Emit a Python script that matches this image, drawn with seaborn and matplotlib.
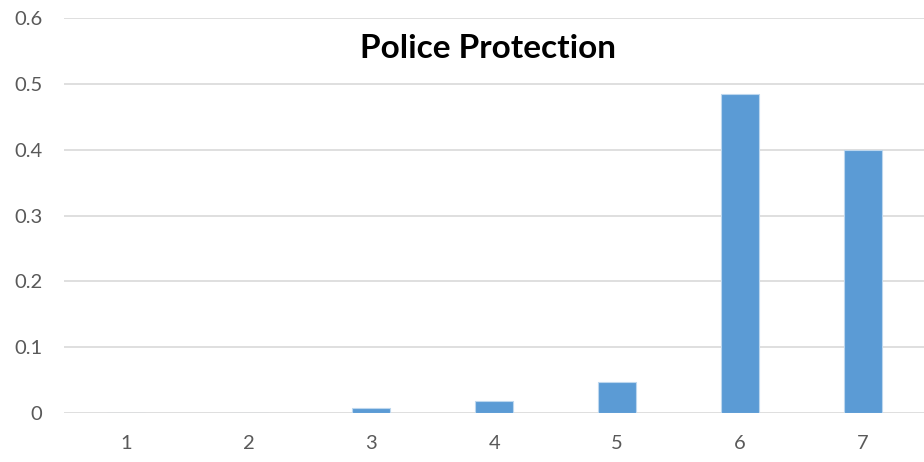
import matplotlib
matplotlib.use("Agg")
import matplotlib.pyplot as plt
import seaborn as sns
import pandas as pd

# values
categories = ["1", "2", "3", "4", "5", "6", "7"]
shares = [0.0, 0.0, 0.008, 0.018, 0.047, 0.485, 0.40]
y_ticks = [0, 0.1, 0.2, 0.3, 0.4, 0.5, 0.6]
y_labels = ["0", "0.1", "0.2", "0.3", "0.4", "0.5", "0.6"]

df = pd.DataFrame({"category": categories, "share": shares})

sns.set_style("white")
plt.rcParams["font.family"] = ["Lato", "DejaVu Sans"]

fig = plt.figure(figsize=(9.24, 4.62), dpi=100)
ax = fig.add_axes([0.0698, 0.106, 0.9302, 0.855])

sns.barplot(data=df, x="category", y="share", color="#5B9BD5",
            width=0.31, saturation=1, edgecolor="#BDD7EE", linewidth=0.8, ax=ax)

ax.set_ylim(0, 0.6)
ax.set_yticks(y_ticks)
ax.set_yticklabels(y_labels)
ax.yaxis.grid(True, color="#D9D9D9", linewidth=1.2)
ax.set_axisbelow(True)
for s in ax.spines.values():
    s.set_visible(False)
ax.tick_params(axis="both", length=0, labelsize=14.5, labelcolor="#595959")
ax.tick_params(axis="y", pad=16)
ax.tick_params(axis="x", pad=16)
ax.set_xlabel("")
ax.set_ylabel("")

fig.text(0.528, 0.895, "Police Protection", ha="center", va="center",
         fontsize=24, fontweight="bold", color="black")

fig.savefig("out.png", dpi=100, facecolor="white")
